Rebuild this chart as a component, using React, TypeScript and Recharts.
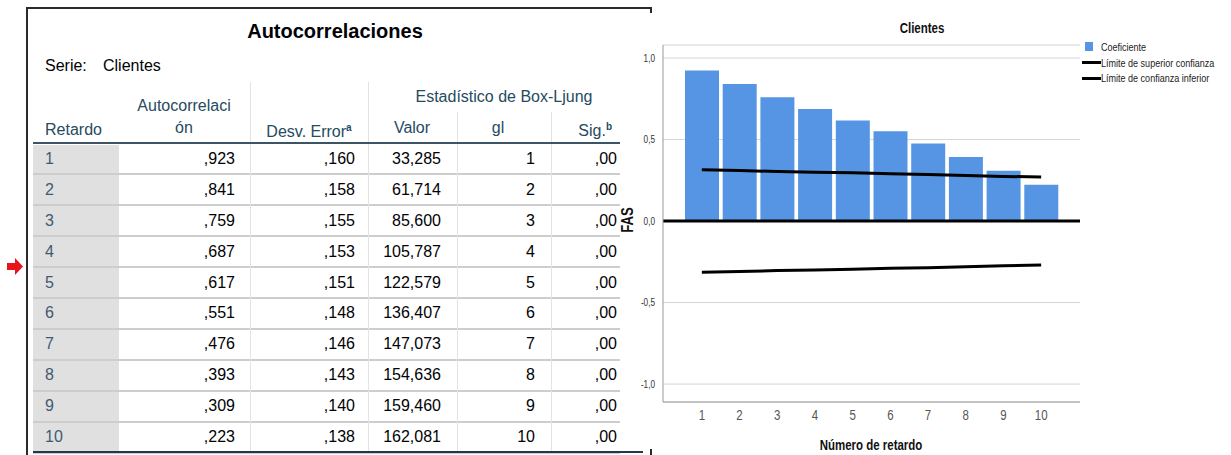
import React from 'react'
import {
  ComposedChart,
  Bar,
  Line,
  XAxis,
  YAxis,
  CartesianGrid,
  ReferenceLine,
} from 'recharts'

// ACF of the Clientes series, lags 1..10
const lags = [1, 2, 3, 4, 5, 6, 7, 8, 9, 10]
const acf = [0.923, 0.841, 0.759, 0.687, 0.617, 0.551, 0.476, 0.393, 0.309, 0.223]
const stdErr = [0.16, 0.158, 0.155, 0.153, 0.151, 0.148, 0.146, 0.143, 0.14, 0.138]
const boxLjung = [33.285, 61.714, 85.6, 105.787, 122.579, 136.407, 147.073, 154.636, 159.46, 162.081]
const gl = [1, 2, 3, 4, 5, 6, 7, 8, 9, 10]
const sig = [0, 0, 0, 0, 0, 0, 0, 0, 0, 0]
const upperLimit = [0.314, 0.31, 0.304, 0.3, 0.296, 0.29, 0.286, 0.28, 0.274, 0.27]
const lowerLimit = [-0.314, -0.31, -0.304, -0.3, -0.296, -0.29, -0.286, -0.28, -0.274, -0.27]
const yTicks = [-1, -0.5, 0, 0.5, 1]

const legendItems = [
  { label: 'Coeficiente', kind: 'bar' },
  { label: 'Límite de superior confianza', kind: 'line' },
  { label: 'Límite de confianza inferior', kind: 'line' },
]

const SANS = '"Liberation Sans", Arial, sans-serif'
// no narrow face installed, so chart text is squeezed horizontally
const NARROW_SCALE = 0.82
const BAR_COLOR = '#5595e3'
const HEAD_COLOR = '#264a60'
const VALUE_COLOR = '#010205'

const chartData = lags.map((lag, i) => ({
  lag,
  acf: acf[i],
  upper: upperLimit[i],
  lower: lowerLimit[i],
}))

const fmtDec = (v: number, d: number) => v.toFixed(d).replace(/^0\./, ',').replace('.', ',')
const fmtAxis = (v: number) => v.toFixed(1).replace('.', ',')

// table geometry
const ROW_TOP = 143.5
const ROW_H = 30.9
const rowMid = (i: number) => ROW_TOP + ROW_H * (i + 0.5)

const columns = [
  { key: 'acf', right: 235, values: acf.map((v) => fmtDec(v, 3)) },
  { key: 'se', right: 355, values: stdErr.map((v) => fmtDec(v, 3)) },
  { key: 'q', right: 441, values: boxLjung.map((v) => fmtDec(v, 3)) },
  { key: 'gl', right: 535, values: gl.map(String) },
  { key: 'sig', right: 617, values: sig.map((v) => fmtDec(v, 2)) },
]

function T({
  x,
  y,
  children,
  align = 'left',
  size = 16,
  color = HEAD_COLOR,
  bold = false,
  narrow = false,
}: any) {
  const w = 300
  const left = align === 'left' ? x : align === 'right' ? x - w : x - w / 2
  return (
    <div
      style={{
        position: 'absolute',
        left,
        top: y - 12,
        width: w,
        height: 24,
        lineHeight: '24px',
        textAlign: align,
        fontSize: size,
        color,
        fontWeight: bold ? 700 : 400,
        fontFamily: SANS,
        whiteSpace: 'nowrap',
        transform: narrow ? `scaleX(${NARROW_SCALE})` : undefined,
        transformOrigin: align === 'left' ? '0 50%' : align === 'right' ? '100% 50%' : '50% 50%',
      }}
    >
      {children}
    </div>
  )
}

function Rule({ x, y, w, h, color }: any) {
  return <div style={{ position: 'absolute', left: x, top: y, width: w, height: h, background: color }} />
}

const NarrowTick = ({ x, y, payload, textAnchor, fontSize, fill, dy, formatter }: any) => (
  <g transform={`translate(${x},${y})`}>
    <text
      transform={`scale(${NARROW_SCALE},1)`}
      textAnchor={textAnchor}
      fontSize={fontSize}
      fill={fill}
      fontFamily={SANS}
      dy={dy}
    >
      {formatter ? formatter(payload.value) : payload.value}
    </text>
  </g>
)

function AcfTable() {
  return (
    <>
      <T x={335} y={31} align="center" size={20} bold color={VALUE_COLOR}>
        Autocorrelaciones
      </T>
      <T x={45} y={66} color={VALUE_COLOR}>Serie:</T>
      <T x={103} y={66} color={VALUE_COLOR}>Clientes</T>

      {/* header separators */}
      <Rule x={250} y={82} w={1} h={62} color="#e3e3e3" />
      <Rule x={368} y={82} w={1} h={62} color="#e3e3e3" />
      <Rule x={457} y={112} w={1} h={32} color="#e3e3e3" />
      <Rule x={551} y={112} w={1} h={32} color="#e3e3e3" />

      <T x={504} y={97} align="center">Estadístico de Box-Ljung</T>
      <T x={184} y={106} align="center">Autocorrelaci</T>
      <T x={184} y={128} align="center">ón</T>
      <T x={45} y={130}>Retardo</T>
      <T x={309} y={128} align="center">
        Desv. Error<sup style={{ fontSize: 10, fontWeight: 700, verticalAlign: 6 }}>a</sup>
      </T>
      <T x={412} y={128} align="center">Valor</T>
      <T x={498} y={128} align="center">gl</T>
      <T x={612} y={127} align="right">
        Sig.<sup style={{ fontSize: 10, fontWeight: 700, verticalAlign: 6 }}>b</sup>
      </T>

      {/* body */}
      <Rule x={33} y={ROW_TOP + 1} w={86} h={ROW_H * 10} color="#e0e0e0" />
      {lags.map((_, i) => (
        <Rule key={'h' + i} x={33} y={ROW_TOP + ROW_H * (i + 1) - 1} w={587} h={2} color="#cdcdcd" />
      ))}
      {[250, 368, 457, 551].map((x) => (
        <Rule key={'v' + x} x={x} y={ROW_TOP} w={1} h={ROW_H * 10} color="#e3e3e3" />
      ))}
      <Rule x={33} y={142} w={587} h={2} color="#3d5366" />
      <Rule x={33} y={451} w={610} h={2} color="#24384a" />

      {lags.map((lag, i) => (
        <T key={'r' + lag} x={45} y={rowMid(i)} color="#3f5a70">
          {lag}
        </T>
      ))}
      {columns.map((c) =>
        c.values.map((v, i) => (
          <T key={c.key + i} x={c.right} y={rowMid(i)} align="right" color={VALUE_COLOR}>
            {v}
          </T>
        ))
      )}

      {/* frame */}
      <Rule x={26} y={7} w={2} h={448} color="#2a2a2a" />
      <Rule x={26} y={7} w={626} h={2} color="#2a2a2a" />
      <Rule x={650} y={7} w={2} h={6} color="#2a2a2a" />
      <Rule x={650} y={449} w={2} h={6} color="#2a2a2a" />

      <svg width={30} height={30} style={{ position: 'absolute', left: 0, top: 252 }}>
        <polygon points="7,11 15,11 15,6 23,14.5 15,23 15,18 7,18" fill="#e8141a" />
      </svg>
    </>
  )
}

function AcfChart() {
  return (
    <div style={{ position: 'absolute', left: 620, top: 0, width: 611, height: 455 }}>
      <ComposedChart
        width={611}
        height={455}
        data={chartData}
        margin={{ top: 45, right: 151, bottom: 0, left: 0 }}
      >
        <CartesianGrid vertical={false} stroke="#d4d4d4" />
        <XAxis
          dataKey="lag"
          height={53}
          padding={{ left: 20, right: 20 }}
          interval={0}
          tickLine={false}
          axisLine={{ stroke: '#9a9a9a' }}
          tick={(p: any) => <NarrowTick {...p} fontSize={14} fill="#555" dy="0.71em" />}
        />
        <YAxis
          width={43}
          type="number"
          domain={[-1.11, 1.08]}
          ticks={yTicks}
          allowDataOverflow
          tickLine={false}
          axisLine={{ stroke: '#9a9a9a' }}
          tick={(p: any) => (
            <NarrowTick {...p} fontSize={10} fill="#333" dy="0.355em" formatter={fmtAxis} />
          )}
        />
        <Bar dataKey="acf" fill={BAR_COLOR} barSize={34} isAnimationActive={false} />
        <Line dataKey="upper" stroke="#000" strokeWidth={3} dot={false} type="linear" isAnimationActive={false} />
        <Line dataKey="lower" stroke="#000" strokeWidth={3} dot={false} type="linear" isAnimationActive={false} />
        <ReferenceLine y={0} stroke="#000" strokeWidth={3} />
      </ComposedChart>

      <T x={302} y={28} align="center" size={14} bold color="#111" narrow>
        Clientes
      </T>
      <T x={251} y={445} align="center" size={14} bold color="#111" narrow>
        Número de retardo
      </T>
      <div
        style={{
          position: 'absolute',
          left: 8 - 30,
          top: 220 - 12,
          width: 60,
          height: 24,
          lineHeight: '24px',
          textAlign: 'center',
          transform: `rotate(-90deg) scaleX(${NARROW_SCALE})`,
          fontSize: 16,
          fontWeight: 700,
          fontFamily: SANS,
          color: '#111',
        }}
      >
        FAS
      </div>

      {legendItems.map((item, i) => {
        const cy = 47 + i * 15.5
        return (
          <React.Fragment key={item.label}>
            {item.kind === 'bar' ? (
              <Rule x={465} y={cy - 5} w={8} h={9} color={BAR_COLOR} />
            ) : (
              <Rule x={462} y={cy - 1.5} w={19} h={3} color="#000" />
            )}
            <T x={481} y={cy} size={11} color="#222" narrow>
              {item.label}
            </T>
          </React.Fragment>
        )
      })}
    </div>
  )
}

export default function App() {
  return (
    <div
      style={{
        position: 'fixed',
        left: 0,
        top: 0,
        width: 1231,
        height: 455,
        background: '#fff',
        overflow: 'hidden',
      }}
    >
      <AcfTable />
      <AcfChart />
    </div>
  )
}
